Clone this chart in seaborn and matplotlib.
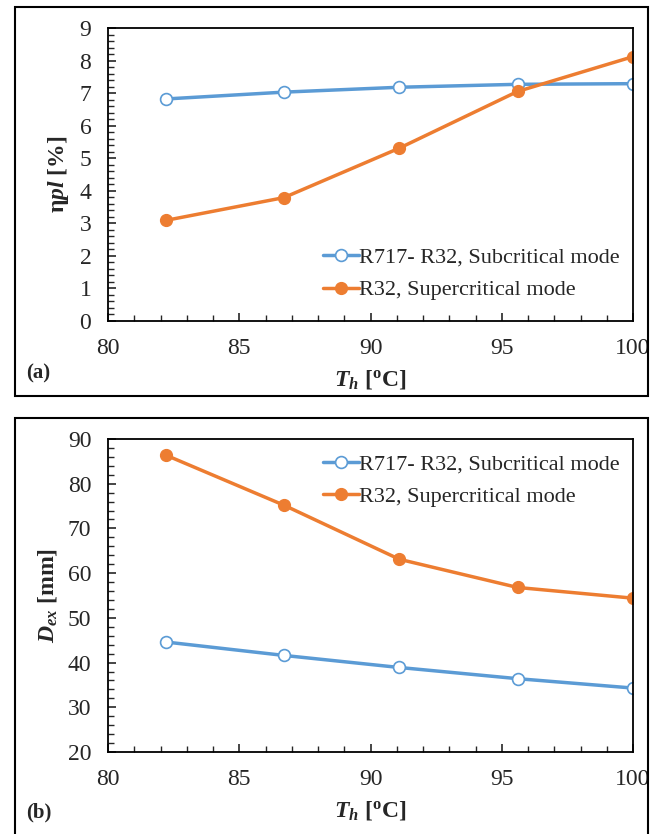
import matplotlib
matplotlib.use("Agg")
import matplotlib.pyplot as plt
from matplotlib.patches import Rectangle
from matplotlib.ticker import MultipleLocator
import seaborn as sns
import pandas as pd

# Datos
temp_h = [82.2, 86.7, 91.1, 95.6, 100.0]
eta_sub = [6.82, 7.03, 7.18, 7.27, 7.29]
eta_sup = [3.09, 3.79, 5.31, 7.05, 8.12]
dex_sub = [44.6, 41.6, 38.9, 36.4, 34.3]
dex_sup = [86.4, 75.2, 63.1, 56.8, 54.4]
series_names = ["R717- R32, Subcritical mode", "R32, Supercritical mode"]

azul = "#5B9BD5"
naranja = "#ED7D31"

sns.set_theme(style="white")
plt.rcParams["font.family"] = ["Liberation Serif", "DejaVu Serif"]
plt.rcParams["mathtext.fontset"] = "custom"
plt.rcParams["mathtext.rm"] = "Liberation Serif"
plt.rcParams["mathtext.it"] = "Liberation Serif:italic"
plt.rcParams["mathtext.bf"] = "Liberation Serif:bold"
plt.rcParams["mathtext.bfit"] = "Liberation Serif:bold:italic"

W, H = 661, 834
fig = plt.figure(figsize=(W / 100, H / 100), dpi=100)


def fx(px):
    return px / W


def fy(py):
    return 1 - py / H


# marcos de cada panel
fig.patches.append(Rectangle((fx(15), fy(396)), fx(648) - fx(15), fy(7) - fy(396),
                             transform=fig.transFigure, fill=False, edgecolor="black", lw=1.5))
fig.patches.append(Rectangle((fx(15), fy(838)), fx(648) - fx(15), fy(418) - fy(838),
                             transform=fig.transFigure, fill=False, edgecolor="black", lw=1.5))

ax1 = fig.add_axes([fx(108), fy(321), fx(633) - fx(108), fy(28) - fy(321)])
ax2 = fig.add_axes([fx(108), fy(752), fx(633) - fx(108), fy(439) - fy(752)])


def dibujar(ax, sub, sup, ylim, ymajor, yminor, ylabel, loc, bbox):
    df = pd.DataFrame({
        "T": temp_h * 2,
        "val": sub + sup,
        "serie": [series_names[0]] * len(temp_h) + [series_names[1]] * len(temp_h),
    })
    sns.lineplot(data=df, x="T", y="val", hue="serie", palette=[azul, naranja],
                 ax=ax, lw=2.5, legend=False)
    ax.plot(temp_h, sub, "o", ms=8.5, mfc="white", mec=azul, mew=1.2, color=azul)
    ax.plot(temp_h, sup, "o", ms=8.5, mfc=naranja, mec=naranja, color=naranja)
    h1 = plt.Line2D([], [], color=azul, lw=2.5, marker="o", ms=8.5, mfc="white", mec=azul, mew=1.2)
    h2 = plt.Line2D([], [], color=naranja, lw=2.5, marker="o", ms=8.5, mfc=naranja, mec=naranja)
    ax.legend([h1, h2], series_names, loc=loc, bbox_to_anchor=bbox, frameon=False,
              fontsize=16, handlelength=1.6, handletextpad=0.0, labelspacing=0.55,
              borderaxespad=0.2)
    ax.set_xlim(80, 100)
    ax.set_ylim(*ylim)
    ax.xaxis.set_major_locator(MultipleLocator(5))
    ax.xaxis.set_minor_locator(MultipleLocator(1))
    ax.yaxis.set_major_locator(MultipleLocator(ymajor))
    ax.yaxis.set_minor_locator(MultipleLocator(yminor))
    ax.tick_params(which="major", direction="in", length=6, width=1.2, labelsize=17)
    ax.tick_params(which="minor", direction="in", length=4, width=1.0)
    ax.tick_params(axis="x", which="major", pad=12)
    ax.tick_params(axis="y", which="major", pad=12)
    ax.tick_params(axis="x", which="both", bottom=True)
    ax.tick_params(axis="y", which="both", left=True)
    for s in ax.spines.values():
        s.set_color("black")
        s.set_linewidth(1.3)
    ax.set_xlabel(r"$\mathbfit{T}_{\mathbfit{h}}$ [$^{\mathbf{o}}$C]", fontsize=17,
                  fontweight="bold", labelpad=7)
    ax.set_ylabel(ylabel, fontsize=17, fontweight="bold", labelpad=6)


dibujar(ax1, eta_sub, eta_sup, (0, 9), 1, 0.2, "η" + r"$\mathbfit{pl}$ [%]",
        "lower right", (1.0, 0.025))
dibujar(ax2, dex_sub, dex_sup, (20, 90), 10, 2, r"$\mathbfit{D}_{\mathbfit{ex}}$ [mm]",
        "upper right", (1.0, 0.995))

fig.text(fx(26), fy(373), "(a)", fontsize=15, fontweight="bold", va="center", ha="left")
fig.text(fx(26), fy(812), "(b)", fontsize=15, fontweight="bold", va="center", ha="left")

fig.savefig("out.png", dpi=100)
